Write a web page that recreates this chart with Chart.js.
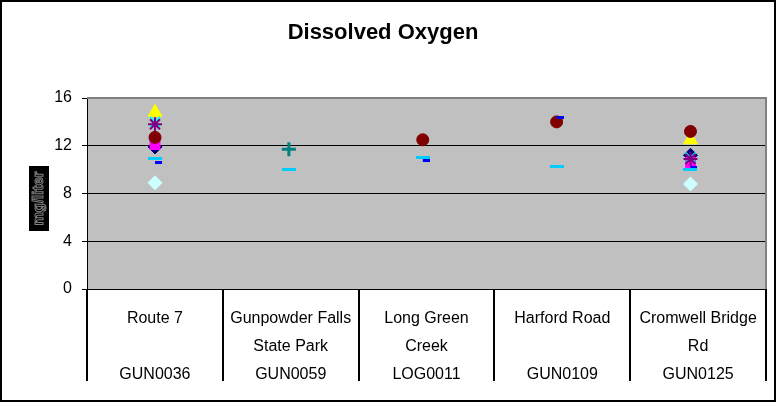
<!DOCTYPE html>
<html>
<head>
<meta charset="utf-8">
<script src="https://cdn.jsdelivr.net/npm/chart.js@4/dist/chart.umd.min.js"></script>
<style>
  html, body { margin: 0; padding: 0; background: #fff; }
  #wrap { width: 776px; height: 402px; position: relative; }
</style>
</head>
<body>
<div id="wrap"><canvas id="c" width="776" height="402"></canvas></div>
<script>
// ---- data ----
const siteNames = [["Route 7", ""], ["Gunpowder Falls", "State Park"], ["Long Green", "Creek"], ["Harford Road", ""], ["Cromwell Bridge", "Rd"]];
const siteCodes = ["GUN0036", "GUN0059", "LOG0011", "GUN0109", "GUN0125"];
const yTicks = [0, 4, 8, 12, 16];

const navyDiamond   = [11.9, null, null, null, 11.2];
const magentaSquare = [12.1, null, null, null, 10.6];
const yellowTri     = [14.8, null, null, null, 12.5];
const cyanX         = [14.0, null, null, null, 11.0];
const purpleStar    = [13.8, null, null, null, 10.9];
const redCircle     = [12.7, null, 12.5, 14.0, 13.2];
const tealPlus      = [null, 11.7, null, null, null];
const blueDash      = [10.6, null, 10.8, 14.35, 10.2];
const skyDash       = [10.9, 10.0, 11.0, 10.3, 10.0];
const paleDiamond   = [8.9, null, null, null, 8.8];

// ---- marker images for dash markers ----
function dashCanvas(color, w, h, fromX) {
  const c = document.createElement('canvas');
  c.width = w; c.height = h;
  const g = c.getContext('2d');
  g.fillStyle = color;
  g.fillRect(fromX, 0, w - fromX, h);
  return c;
}
const longDash = dashCanvas('#00CCFF', 14, 3, 0);
const shortDash = dashCanvas('#0000FF', 14, 3, 7);

const labels = siteNames.map((n, i) => [n[0], n[1], siteCodes[i]]);
const FONT = '"Liberation Sans", Arial, sans-serif';

function ds(label, data, color, style, radius, bw, order) {
  return {
    label,
    data: data.map((v, i) => ({ x: i, y: v })),
    xAxisID: 'xp',
    showLine: false,
    spanGaps: false,
    pointStyle: style,
    pointRadius: radius,
    pointHoverRadius: radius,
    backgroundColor: color,
    borderColor: color,
    pointBorderWidth: bw,
    order: order
  };
}

const datasets = [
  ds('Series 1', navyDiamond, '#000080', 'rectRot', 7, 1, 10),
  ds('Series 2', magentaSquare, '#FF00FF', 'rect', 7, 1, 9),
  ds('Series 3', yellowTri, '#FFFF00', 'triangle', 8, 1, 8),
  ds('Series 4', cyanX, '#00FFFF', 'crossRot', 7, 2, 7),
  ds('Series 5', purpleStar, '#800080', 'star', 7, 2, 6),
  ds('Series 6', redCircle, '#800000', 'circle', 6, 1, 5),
  ds('Series 7', tealPlus, '#008080', 'cross', 7, 3, 4),
  ds('Series 8', blueDash, '#0000FF', shortDash, 7, 0, 3),
  ds('Series 9', skyDash, '#00CCFF', longDash, 7, 0, 2),
  ds('Series 10', paleDiamond, '#CCFFFF', 'rectRot', 7, 1, 1)
];

const decor = {
  id: 'decor',
  beforeDraw(chart) {
    const {ctx, chartArea: a} = chart;
    ctx.save();
    ctx.fillStyle = '#fff';
    ctx.fillRect(0, 0, chart.width, chart.height);
    ctx.fillStyle = '#C0C0C0';
    ctx.fillRect(a.left, a.top, a.right - a.left, a.bottom - a.top);
    ctx.restore();
  },
  beforeDatasetsDraw(chart) {
    const {ctx, chartArea: a, scales} = chart;
    ctx.save();
    // plot-area border (top / right)
    ctx.strokeStyle = '#808080';
    ctx.lineWidth = 2;
    ctx.beginPath();
    ctx.moveTo(a.left, a.top);
    ctx.lineTo(a.right, a.top);
    ctx.lineTo(a.right, a.bottom);
    ctx.stroke();
    // category dividers below the axis
    const xs = scales.x;
    ctx.strokeStyle = '#000';
    ctx.lineWidth = 2;
    const n = xs.getLabels().length;
    const bounds = [a.left];
    for (let i = 0; i < n - 1; i++) bounds.push((xs.getPixelForValue(i) + xs.getPixelForValue(i + 1)) / 2);
    bounds.push(a.right);
    ctx.beginPath();
    bounds.forEach(b => { const xx = Math.round(b); ctx.moveTo(xx, a.bottom); ctx.lineTo(xx, a.bottom + 92); });
    ctx.stroke();
    // y axis title box
    ctx.fillStyle = '#000';
    ctx.fillRect(29, 166, 20, 65);
    ctx.translate(39, 198.5);
    ctx.rotate(-Math.PI / 2);
    ctx.font = 'bold 15px ' + FONT;
    ctx.textAlign = 'center';
    ctx.textBaseline = 'middle';
    ctx.fillStyle = '#000';
    ctx.strokeStyle = '#808080';
    ctx.lineWidth = 1;
    ctx.fillText('mg/liter', 0, 0);
    ctx.strokeText('mg/liter', 0, 0);
    ctx.restore();
    // outer chart border
    ctx.save();
    ctx.strokeStyle = '#000';
    ctx.lineWidth = 2;
    ctx.strokeRect(1, 1, chart.width - 2, chart.height - 2);
    ctx.restore();
  }
};

new Chart(document.getElementById('c'), {
  type: 'line',
  data: { labels, datasets },
  plugins: [decor],
  options: {
    responsive: false,
    animation: false,
    events: [],
    layout: { padding: { left: 0, right: 10, top: 0, bottom: 0 } },
    plugins: {
      legend: { display: false },
      tooltip: { enabled: false },
      title: {
        display: true,
        text: 'Dissolved Oxygen',
        color: '#000',
        font: { family: FONT, size: 22, weight: 'bold', lineHeight: 1.2 },
        padding: { top: 20, bottom: 51.6 }
      }
    },
    scales: {
      x: {
        type: 'category',
        offset: true,
        grid: { display: false },
        border: { display: true, color: '#000', width: 1 },
        ticks: {
          color: '#000',
          maxRotation: 0,
          autoSkip: false,
          padding: 8,
          font: { family: FONT, size: 16, lineHeight: '28px' }
        },
        afterFit(s) { s.height = 113; }
      },
      xp: {
        type: 'linear',
        display: false,
        min: -0.508,
        max: 4.564
      },
      y: {
        min: 0, max: 16,
        afterBuildTicks(s) { s.ticks = yTicks.map(v => ({ value: v })); },
        grid: {
          color: ctx => (ctx.tick && ctx.tick.value === 16) ? '#808080' : '#000',
          tickColor: '#000',
          lineWidth: 1,
          tickLength: 5,
          drawTicks: true
        },
        border: { display: true, color: '#000', width: 1 },
        ticks: {
          color: '#000',
          padding: 10,
          font: { family: FONT, size: 16 }
        },
        afterFit(s) { s.width = 87; }
      }
    }
  }
});
</script>
</body>
</html>
